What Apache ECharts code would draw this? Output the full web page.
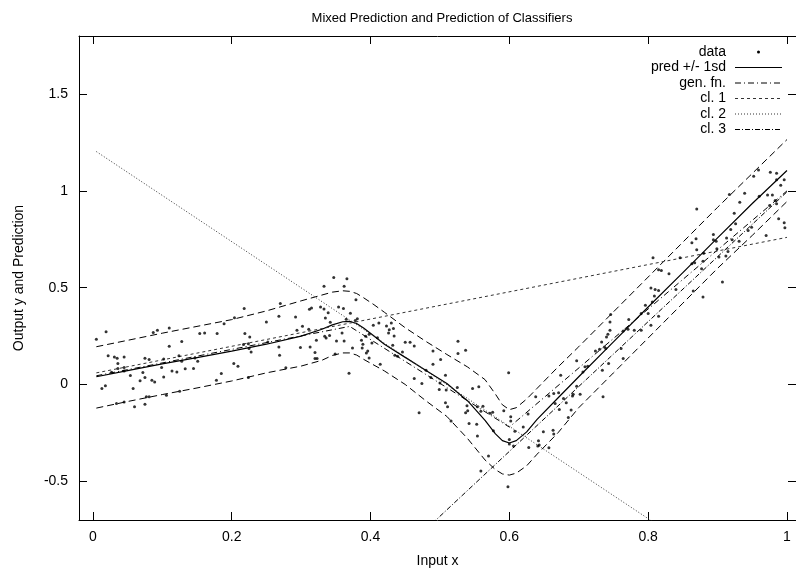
<!DOCTYPE html>
<html><head><meta charset="utf-8">
<script src="https://cdn.jsdelivr.net/npm/echarts@6/dist/echarts.min.js"></script>
<style>html,body{margin:0;padding:0;background:#fff}#c{width:796px;height:571px}</style>
</head><body><div id="c"></div>
<script>
const titleText = 'Mixed Prediction and Prediction of Classifiers';
const xName = 'Input x';
const yName = 'Output y and Prediction';
const xTicks = [0, 0.2, 0.4, 0.6, 0.8, 1];
const yTicks = [-0.5, 0, 0.5, 1, 1.5];
const legendNames = ['data', 'pred +/- 1sd', 'gen. fn.', 'cl. 1', 'cl. 2', 'cl. 3'];

// observed data points
const dataX = [
0.005,0.019,0.013,0.018,0.022,0.027,0.031,0.035,0.036,0.036,0.045,0.045,0.045,0.034,0.045,0.054,0.058,0.060,0.068,0.072,0.075,0.075,0.081,0.075,0.077,0.081,0.085,0.089,0.087,0.093,0.099,0.102,0.102,0.106,0.110,0.110,0.114,0.121,0.124,0.125,0.128,0.128,0.133,0.145,0.147,0.151,0.154,0.161,0.179,0.178,0.185,0.189,0.204,0.203,0.209,0.218,0.219,0.217,0.224,0.228,0.225,
0.226,0.224,0.250,0.252,0.268,0.270,0.268,0.269,0.278,0.292,0.294,0.302,0.299,0.312,0.315,0.311,0.313,0.320,0.320,0.323,0.322,0.328,0.333,0.333,0.335,0.334,0.339,0.341,0.336,0.347,0.342,0.354,0.351,0.349,0.361,0.359,0.362,0.366,0.362,0.365,0.371,0.369,0.374,0.379,0.378,0.381,0.387,0.389,0.388,0.393,0.394,0.396,0.398,0.398,0.404,0.402,0.410,0.412,0.414,0.423,0.427,0.426,0.430,0.433,0.434,0.432,0.435,0.439,0.446,0.450,0.457,0.463,0.463,
0.490,0.501,0.490,0.480,0.474,0.487,0.500,0.508,0.499,0.509,0.525,0.526,0.537,0.526,0.508,0.511,0.470,0.516,0.539,0.540,0.537,0.542,0.547,0.556,0.554,0.553,0.554,0.559,0.562,0.572,0.576,0.577,0.570,0.559,0.592,0.599,0.602,0.602,0.600,0.600,0.606,0.598,0.608,0.627,0.620,0.628,0.638,0.642,0.643,0.641,0.649,0.657,0.657,0.663,0.664,0.664,0.666,0.671,0.672,0.674,0.678,0.685,0.689,0.691,
0.863,0.807,0.846,0.863,0.815,0.819,0.830,0.840,0.865,0.804,0.810,0.815,0.809,0.806,0.796,0.800,0.790,0.815,0.804,0.790,0.780,0.772,0.771,0.764,0.746,0.745,0.745,0.742,0.740,0.733,0.730,0.724,0.737,0.739,0.761,0.697,0.743,0.764,0.709,0.713,0.706,0.734,0.697,0.692,0.702,0.735,0.682,
0.959,0.952,0.976,0.985,0.996,0.985,0.991,0.939,0.917,0.960,0.972,0.979,0.983,0.975,0.985,0.932,0.870,0.924,0.926,0.919,0.949,0.944,0.988,0.996,0.997,0.894,0.869,0.894,0.898,0.913,0.921,0.931,0.970,0.870,0.880,0.899,0.915,0.902,0.912,0.867,0.879,0.877,0.907,0.879
];
const dataY = [
0.233,0.273,-0.021,-0.007,0.149,0.063,0.142,0.136,0.108,0.082,0.142,0.088,0.070,-0.098,-0.091,0.046,-0.021,-0.115,0.019,0.062,0.036,0.136,0.129,-0.102,-0.064,-0.064,0.022,0.013,0.268,0.280,0.088,0.132,0.039,-0.055,0.292,0.197,0.070,0.065,0.149,-0.035,0.222,0.120,0.081,0.082,0.137,0.120,0.263,0.266,0.263,0.022,0.057,0.314,0.345,0.108,0.094,0.393,0.263,0.206,0.211,0.168,0.186,
0.245,0.036,0.323,0.220,0.352,0.418,0.194,0.151,0.086,0.349,0.280,0.301,0.191,0.388,0.395,0.285,0.194,0.165,0.134,0.134,0.228,0.400,0.508,0.390,0.343,0.249,0.371,0.253,0.240,0.553,0.321,0.400,0.225,0.158,0.392,0.266,0.507,0.546,0.225,0.337,0.368,0.058,0.189,0.438,0.331,0.340,0.228,0.208,0.189,0.249,0.163,0.173,0.137,0.259,0.306,0.214,0.242,0.318,0.105,0.302,0.283,0.266,0.318,0.289,0.251,0.203,0.151,0.146,0.168,0.218,0.218,0.199,0.031,
0.173,0.129,0.105,0.074,0.005,0.036,0.008,0.048,-0.026,-0.029,-0.015,0.223,0.177,0.160,-0.095,-0.115,-0.146,-0.189,-0.110,-0.136,-0.146,-0.201,-0.021,-0.012,-0.115,-0.205,-0.266,-0.138,-0.112,-0.149,-0.143,-0.239,-0.370,-0.447,-0.136,0.060,-0.167,-0.189,-0.284,-0.308,-0.318,-0.528,-0.241,-0.153,-0.219,-0.325,-0.064,-0.291,-0.313,-0.318,-0.244,-0.327,-0.060,-0.236,-0.256,-0.046,-0.098,-0.043,-0.129,0.048,-0.072,-0.170,-0.132,-0.060,
0.732,0.655,0.655,0.624,0.593,0.589,0.572,0.490,0.483,0.498,0.491,0.486,0.457,0.426,0.409,0.366,0.366,0.352,0.306,0.280,0.280,0.335,0.285,0.276,0.362,0.323,0.280,0.259,0.245,0.220,0.182,0.173,0.194,0.186,0.186,0.122,0.108,0.134,0.091,0.094,0.065,0.074,-0.009,-0.050,-0.050,-0.064,-0.095,
1.108,1.075,1.096,1.091,1.057,1.057,1.029,0.988,0.981,0.972,0.979,0.979,0.950,0.924,0.933,0.941,0.907,0.885,0.830,0.801,0.812,0.795,0.856,0.835,0.809,0.775,0.753,0.747,0.740,0.756,0.747,0.740,0.770,0.696,0.678,0.701,0.687,0.658,0.663,0.629,0.636,0.598,0.529,0.452
];

// mixed prediction and +/- 1 sd band
const curveX = [0.005,0.05,0.1,0.15,0.2,0.25,0.3,0.33,0.345,0.36,0.37,0.38,0.39,0.405,0.42,0.45,0.48,0.51,0.54,0.565,0.58,0.59,0.6,0.61,0.625,0.64,0.67,0.7,0.75,0.8,0.85,0.9,0.95,1.0];
const predY  = [0.040,0.072,0.106,0.139,0.172,0.208,0.250,0.285,0.308,0.324,0.326,0.315,0.292,0.250,0.208,0.140,0.072,0.005,-0.085,-0.185,-0.255,-0.290,-0.302,-0.290,-0.245,-0.180,-0.070,0.040,0.220,0.400,0.578,0.757,0.935,1.105];
const upperY = [0.195,0.228,0.265,0.300,0.335,0.380,0.432,0.462,0.477,0.484,0.481,0.470,0.448,0.412,0.373,0.293,0.222,0.155,0.090,0.025,-0.050,-0.105,-0.130,-0.120,-0.075,-0.020,0.090,0.195,0.375,0.555,0.735,0.915,1.090,1.265];
const lowerY = [-0.122,-0.088,-0.052,-0.018,0.018,0.060,0.095,0.125,0.150,0.163,0.163,0.152,0.130,0.100,0.070,0.000,-0.085,-0.165,-0.280,-0.390,-0.440,-0.462,-0.468,-0.458,-0.420,-0.360,-0.250,-0.120,0.060,0.240,0.420,0.600,0.770,0.945];

// generating function
const genX = [0.005,0.37,0.6,1.0];
const genY = [0.045,0.300,-0.220,1.000];

// classifier (expert) lines
const cl1X = [0.005,1.0]; const cl1Y = [0.060,0.760];
const cl2X = [0.005,1.0]; const cl2Y = [1.203,-1.170];
const cl3X = [0.005,1.0]; const cl3Y = [-2.340,0.995];

const FONT = '"Liberation Sans", Arial, Helvetica, sans-serif';
const zip = (xs, ys) => xs.map((x, i) => [x, ys[i]]);

const chart = echarts.init(document.getElementById('c'), null, {renderer: 'canvas'});

const styles = {
  pred: {color: '#000', width: 1.2, type: 'solid'},
  band: {color: '#000', width: 1, type: [7, 4]},
  gen:  {color: '#000', width: 1, type: [6, 3, 1, 3]},
  cl1:  {color: '#333', width: 1, type: [3, 3]},
  cl2:  {color: '#333', width: 1, type: [1, 2]},
  cl3:  {color: '#000', width: 1, type: [5, 2, 1, 2]}
};

function lineSeries(name, data, st) {
  return {
    name: name, type: 'line', data: data, showSymbol: false, symbol: 'none',
    clip: true, silent: true, lineStyle: st, z: 2
  };
}

const axisCommon = {
  type: 'value',
  splitLine: {show: false},
  axisLine: {show: true, onZero: false, lineStyle: {color: '#000', width: 1}},
};

const legendX = 726, legendY0 = 52, legendDy = 15.5, sx1 = 735, sx2 = 782;
const legendStyles = [null, styles.pred, styles.gen, styles.cl1, styles.cl2, styles.cl3];
const graphics = [];
legendNames.forEach((nm, i) => {
  const y = legendY0 + i * legendDy;
  graphics.push({type: 'text', x: legendX, y: y,
    style: {text: nm, textAlign: 'right', textVerticalAlign: 'middle', font: '14px ' + FONT, fill: '#000'}});
  if (i === 0) {
    graphics.push({type: 'circle', shape: {cx: (sx1 + sx2) / 2, cy: y, r: 1.5}, style: {fill: '#000'}});
  } else {
    const st = legendStyles[i];
    graphics.push({type: 'line', shape: {x1: sx1, y1: y, x2: sx2, y2: y},
      style: {stroke: st.color, lineWidth: st.width, lineDash: st.type === 'solid' ? null : st.type}});
  }
});

chart.setOption({
  animation: false,
  backgroundColor: '#fff',
  title: {
    text: titleText, left: 437, top: 7, textAlign: 'center',
    textStyle: {fontFamily: FONT, fontSize: 13, fontWeight: 'normal', color: '#000'}
  },
  grid: {left: 79, right: 0, top: 36, bottom: 51, containLabel: false, outerBoundsMode: 'none'},
  xAxis: [
    Object.assign({}, axisCommon, {
      min: -0.02, max: 1.013, position: 'bottom',
      name: xName, nameLocation: 'middle', nameGap: 34,
      nameTextStyle: {fontFamily: FONT, fontSize: 14, color: '#000'},
      axisTick: {show: true, inside: true, length: 8, customValues: xTicks, lineStyle: {color: '#000'}},
      axisLabel: {show: true, customValues: xTicks, margin: 10, fontFamily: FONT, fontSize: 14, color: '#000',
        formatter: v => String(v)}
    }),
    Object.assign({}, axisCommon, {
      min: -0.02, max: 1.013, position: 'top',
      axisTick: {show: true, inside: true, length: 8, customValues: xTicks, lineStyle: {color: '#000'}},
      axisLabel: {show: false}
    })
  ],
  yAxis: [
    Object.assign({}, axisCommon, {
      min: -0.7, max: 1.8, position: 'left',
      name: yName, nameLocation: 'middle', nameGap: 53, nameRotate: 90,
      nameTextStyle: {fontFamily: FONT, fontSize: 14, color: '#000'},
      axisTick: {show: true, inside: true, length: 8, customValues: yTicks, lineStyle: {color: '#000'}},
      axisLabel: {show: true, customValues: yTicks, margin: 11, fontFamily: FONT, fontSize: 14, color: '#000',
        formatter: v => String(v)}
    }),
    Object.assign({}, axisCommon, {
      min: -0.7, max: 1.8, position: 'right',
      axisTick: {show: true, inside: true, length: 8, customValues: yTicks, lineStyle: {color: '#000'}},
      axisLabel: {show: false}
    })
  ],
  graphic: graphics,
  series: [
    {name: 'data', type: 'scatter', data: zip(dataX, dataY), symbol: 'circle', symbolSize: 3,
      itemStyle: {color: '#000'}, silent: true, z: 3},
    lineSeries('pred +/- 1sd', zip(curveX, predY), styles.pred),
    lineSeries('pred + 1sd', zip(curveX, upperY), styles.band),
    lineSeries('pred - 1sd', zip(curveX, lowerY), styles.band),
    lineSeries('gen. fn.', zip(genX, genY), styles.gen),
    lineSeries('cl. 1', zip(cl1X, cl1Y), styles.cl1),
    lineSeries('cl. 2', zip(cl2X, cl2Y), styles.cl2),
    lineSeries('cl. 3', zip(cl3X, cl3Y), styles.cl3)
  ]
});
</script></body></html>
